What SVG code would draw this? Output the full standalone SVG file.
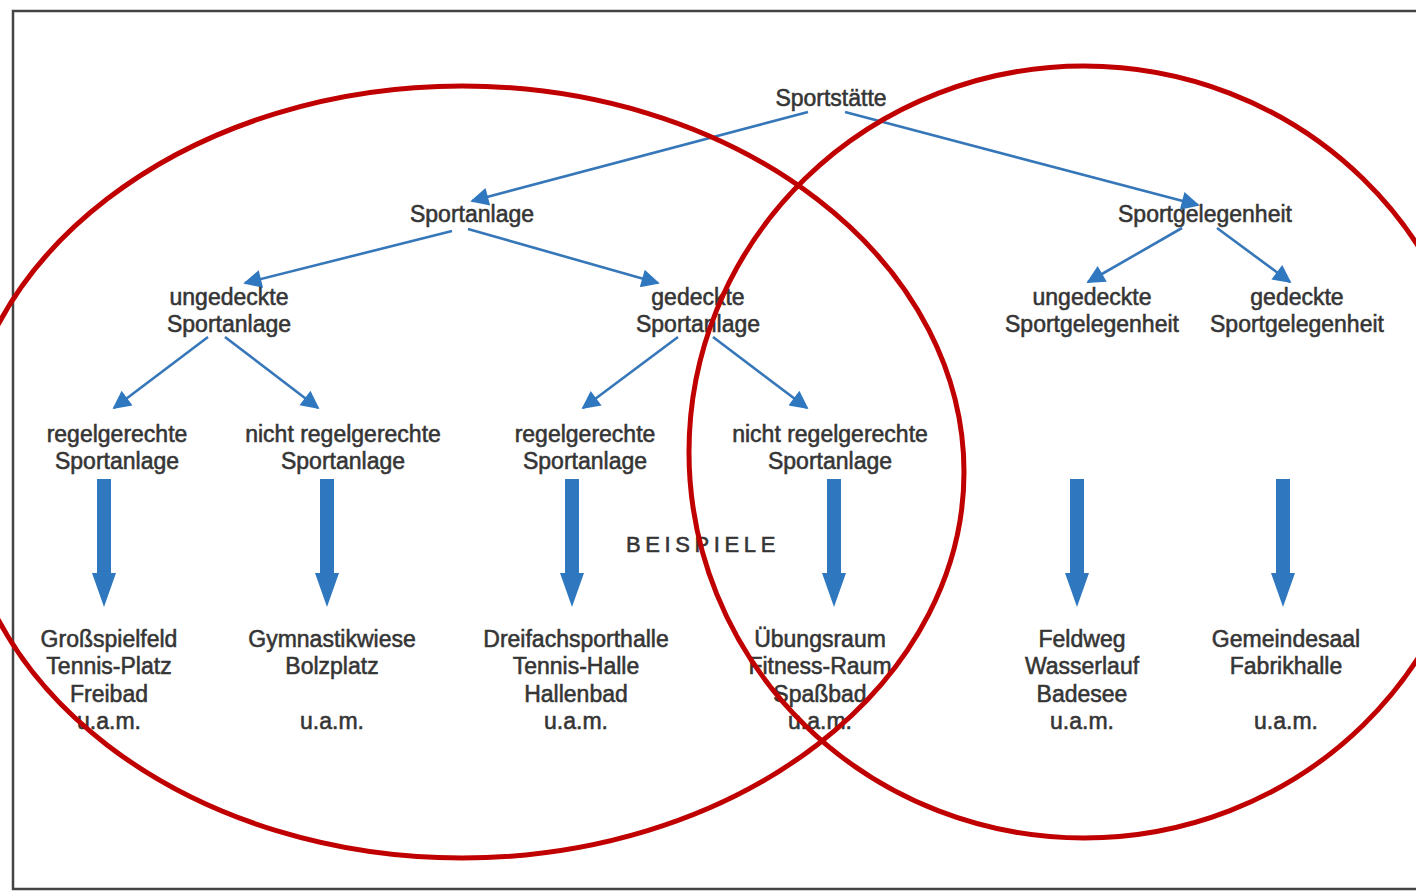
<svg xmlns="http://www.w3.org/2000/svg" width="1416" height="893" viewBox="0 0 1416 893">
<defs>
<style>
.t{font-family:"Liberation Sans",Arial,sans-serif;font-size:23px;fill:#353535;text-anchor:middle;stroke:#353535;stroke-width:0.55}
.b{font-family:"Liberation Sans",Arial,sans-serif;font-size:22px;fill:#353535;letter-spacing:4.6px;stroke:#353535;stroke-width:0.55}
.thin{stroke:#3677b9;stroke-width:2.6;fill:none;marker-end:url(#ah)}
.thick{fill:#2f78c0}
.ring{fill:none;stroke:#c00000;stroke-width:5}
</style>
<marker id="ah" viewBox="0 0 10 10" refX="9" refY="5" markerWidth="9" markerHeight="7" markerUnits="strokeWidth" orient="auto">
<path d="M0,0 L10,5 L0,10 z" fill="#2f78c0"/>
</marker>
<path id="bigarrow" d="M-7,0 L7,0 L7,94 L12,94 L0,128 L-12,94 L-7,94 z"/>
</defs>
<rect width="1416" height="893" fill="#ffffff"/>
<rect x="13" y="11" width="1430" height="878" fill="none" stroke="#444" stroke-width="2.5"/>

<g id="connectors">
<line class="thin" x1="808" y1="112" x2="472" y2="201"/>
<line class="thin" x1="845" y1="112" x2="1198" y2="205"/>
<line class="thin" x1="452" y1="231" x2="245" y2="283"/>
<line class="thin" x1="468" y1="229" x2="658" y2="283"/>
<line class="thin" x1="208" y1="337" x2="114" y2="408"/>
<line class="thin" x1="225" y1="337" x2="318" y2="408"/>
<line class="thin" x1="678" y1="337" x2="583" y2="408"/>
<line class="thin" x1="713" y1="337" x2="807" y2="408"/>
<line class="thin" x1="1182" y1="228" x2="1088" y2="282"/>
<line class="thin" x1="1217" y1="228" x2="1290" y2="282"/>
<use class="thick" href="#bigarrow" x="104" y="479"/>
<use class="thick" href="#bigarrow" x="327" y="479"/>
<use class="thick" href="#bigarrow" x="572" y="479"/>
<use class="thick" href="#bigarrow" x="834" y="479"/>
<use class="thick" href="#bigarrow" x="1077" y="479"/>
<use class="thick" href="#bigarrow" x="1283" y="479"/>
</g>

<g id="n-sportstaette"><text class="t" x="831" y="106">Sportstätte</text></g>
<g id="n-sportanlage"><text class="t" x="472" y="222">Sportanlage</text></g>
<g id="n-sportgelegenheit"><text class="t" x="1205" y="222">Sportgelegenheit</text></g>

<g id="n-ungedeckte-sa"><text class="t" x="229" y="305">ungedeckte</text><text class="t" x="229" y="332">Sportanlage</text></g>
<g id="n-gedeckte-sa"><text class="t" x="698" y="305">gedeckte</text><text class="t" x="698" y="332">Sportanlage</text></g>
<g id="n-ungedeckte-sg"><text class="t" x="1092" y="305">ungedeckte</text><text class="t" x="1092" y="332">Sportgelegenheit</text></g>
<g id="n-gedeckte-sg"><text class="t" x="1297" y="305">gedeckte</text><text class="t" x="1297" y="332">Sportgelegenheit</text></g>

<g id="n-regel-1"><text class="t" x="117" y="442">regelgerechte</text><text class="t" x="117" y="469">Sportanlage</text></g>
<g id="n-nichtregel-1"><text class="t" x="343" y="442">nicht regelgerechte</text><text class="t" x="343" y="469">Sportanlage</text></g>
<g id="n-regel-2"><text class="t" x="585" y="442">regelgerechte</text><text class="t" x="585" y="469">Sportanlage</text></g>
<g id="n-nichtregel-2"><text class="t" x="830" y="442">nicht regelgerechte</text><text class="t" x="830" y="469">Sportanlage</text></g>

<g id="beispiele"><text class="b" x="626" y="552">BEISPIELE</text></g>

<g id="ex-1"><text class="t" x="109" y="647">Großspielfeld</text><text class="t" x="109" y="674">Tennis-Platz</text><text class="t" x="109" y="702">Freibad</text><text class="t" x="109" y="729">u.a.m.</text></g>
<g id="ex-2"><text class="t" x="332" y="647">Gymnastikwiese</text><text class="t" x="332" y="674">Bolzplatz</text><text class="t" x="332" y="729">u.a.m.</text></g>
<g id="ex-3"><text class="t" x="576" y="647">Dreifachsporthalle</text><text class="t" x="576" y="674">Tennis-Halle</text><text class="t" x="576" y="702">Hallenbad</text><text class="t" x="576" y="729">u.a.m.</text></g>
<g id="ex-4"><text class="t" x="820" y="647">Übungsraum</text><text class="t" x="820" y="674">Fitness-Raum</text><text class="t" x="820" y="702">Spaßbad</text><text class="t" x="820" y="729">u.a.m.</text></g>
<g id="ex-5"><text class="t" x="1082" y="647">Feldweg</text><text class="t" x="1082" y="674">Wasserlauf</text><text class="t" x="1082" y="702">Badesee</text><text class="t" x="1082" y="729">u.a.m.</text></g>
<g id="ex-6"><text class="t" x="1286" y="647">Gemeindesaal</text><text class="t" x="1286" y="674">Fabrikhalle</text><text class="t" x="1286" y="729">u.a.m.</text></g>

<g id="rings">
<ellipse class="ring" cx="462" cy="472" rx="502" ry="386"/>
<ellipse class="ring" cx="1084" cy="452" rx="395" ry="386"/>
</g>
</svg>
